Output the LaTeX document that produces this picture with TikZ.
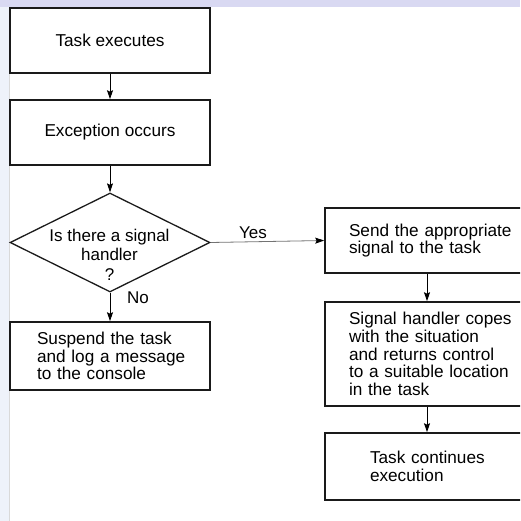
\documentclass[tikz,border=0pt]{standalone}
\usepackage{fontspec}
\setmainfont{Liberation Sans}
\usetikzlibrary{shapes.geometric,arrows.meta}

\definecolor{topband}{HTML}{D9D9F2}
\definecolor{sideband}{HTML}{EEF2FA}
\definecolor{edge}{HTML}{1A1A1A}

\tikzset{
  flowbox/.style={draw=edge, line width=1.6pt, align=left,
    font=\fontsize{17.2}{17.6}\selectfont, inner ysep=0pt},
  decision/.style={draw=edge, line width=1.3pt, shape=diamond,
    minimum width=200pt, minimum height=99pt, inner sep=0pt},
  flowtext/.style={font=\fontsize{17}{18.5}\selectfont, align=center, inner sep=0pt},
  arr/.style={line width=0.9pt, -{Stealth[length=9pt,width=6pt,inset=1.5pt]}},
  yesarr/.style={line width=0.8pt, draw=black!55,
    -{Stealth[length=9pt,width=6pt,inset=1.5pt,color=black]}},
}

\begin{document}
\begin{tikzpicture}[x=1pt, y=-1pt]
  \useasboundingbox (0,0) rectangle (520,521);
  \clip (0,0) rectangle (520,521);

  % slide frame
  \fill[topband] (0,0) rectangle (520,7);
  \fill[sideband] (0,7) rectangle (9,521);
  \draw[black!15, line width=0.6pt] (9,7) -- (9,521);

  % left column
  \node[flowbox, minimum width=200pt, minimum height=65pt, align=center] (exec) at (110,40.5) {Task executes};
  \node[flowbox, minimum width=200pt, minimum height=65pt, align=center] (exc) at (110,132.5) {Exception occurs};
  \node[decision] (dia) at (110,242.5) {};
  \node[flowtext, anchor=north] (diatext) at (109.5,229) {Is there a signal\\handler\\[1.5pt]?};
  \node[flowbox, text width=146pt, inner xsep=27pt, minimum height=68pt] (susp) at (110,356)
    {\mbox{Suspend the task}\\\mbox{and log a message}\\\mbox{to the console}};

  % right column
  \coordinate (rcol) at (427,0);
  \node[flowbox, text width=172pt, inner xsep=24pt, minimum height=65pt] (send) at (435,240.5)
    {Send the appropriate\\signal to the task};
  \node[flowbox, text width=172pt, inner xsep=24pt, minimum height=104pt] (hand) at (435,354)
    {Signal handler copes\\with the situation\\and returns control\\to a suitable location\\in the task};
  \node[flowbox, text width=130pt, inner xsep=45pt, minimum height=67pt] (cont) at (435,466.5)
    {Task continues\\execution};

  % connectors
  \draw[arr] (exec.south) -- (exc.north);
  \draw[arr] (exc.south) -- (dia.north);
  \draw[arr] (dia.south) -- (susp.north);
  \draw[yesarr] (dia.east) -- (send.west);
  \draw[arr] (send.south -| rcol) -- (hand.north -| rcol);
  \draw[arr] (hand.south -| rcol) -- (cont.north -| rcol);

  % branch labels
  \node[flowtext] (yes) at (253,233) {Yes};
  \node[flowtext] (no) at (138,298) {No};
\end{tikzpicture}
\end{document}
